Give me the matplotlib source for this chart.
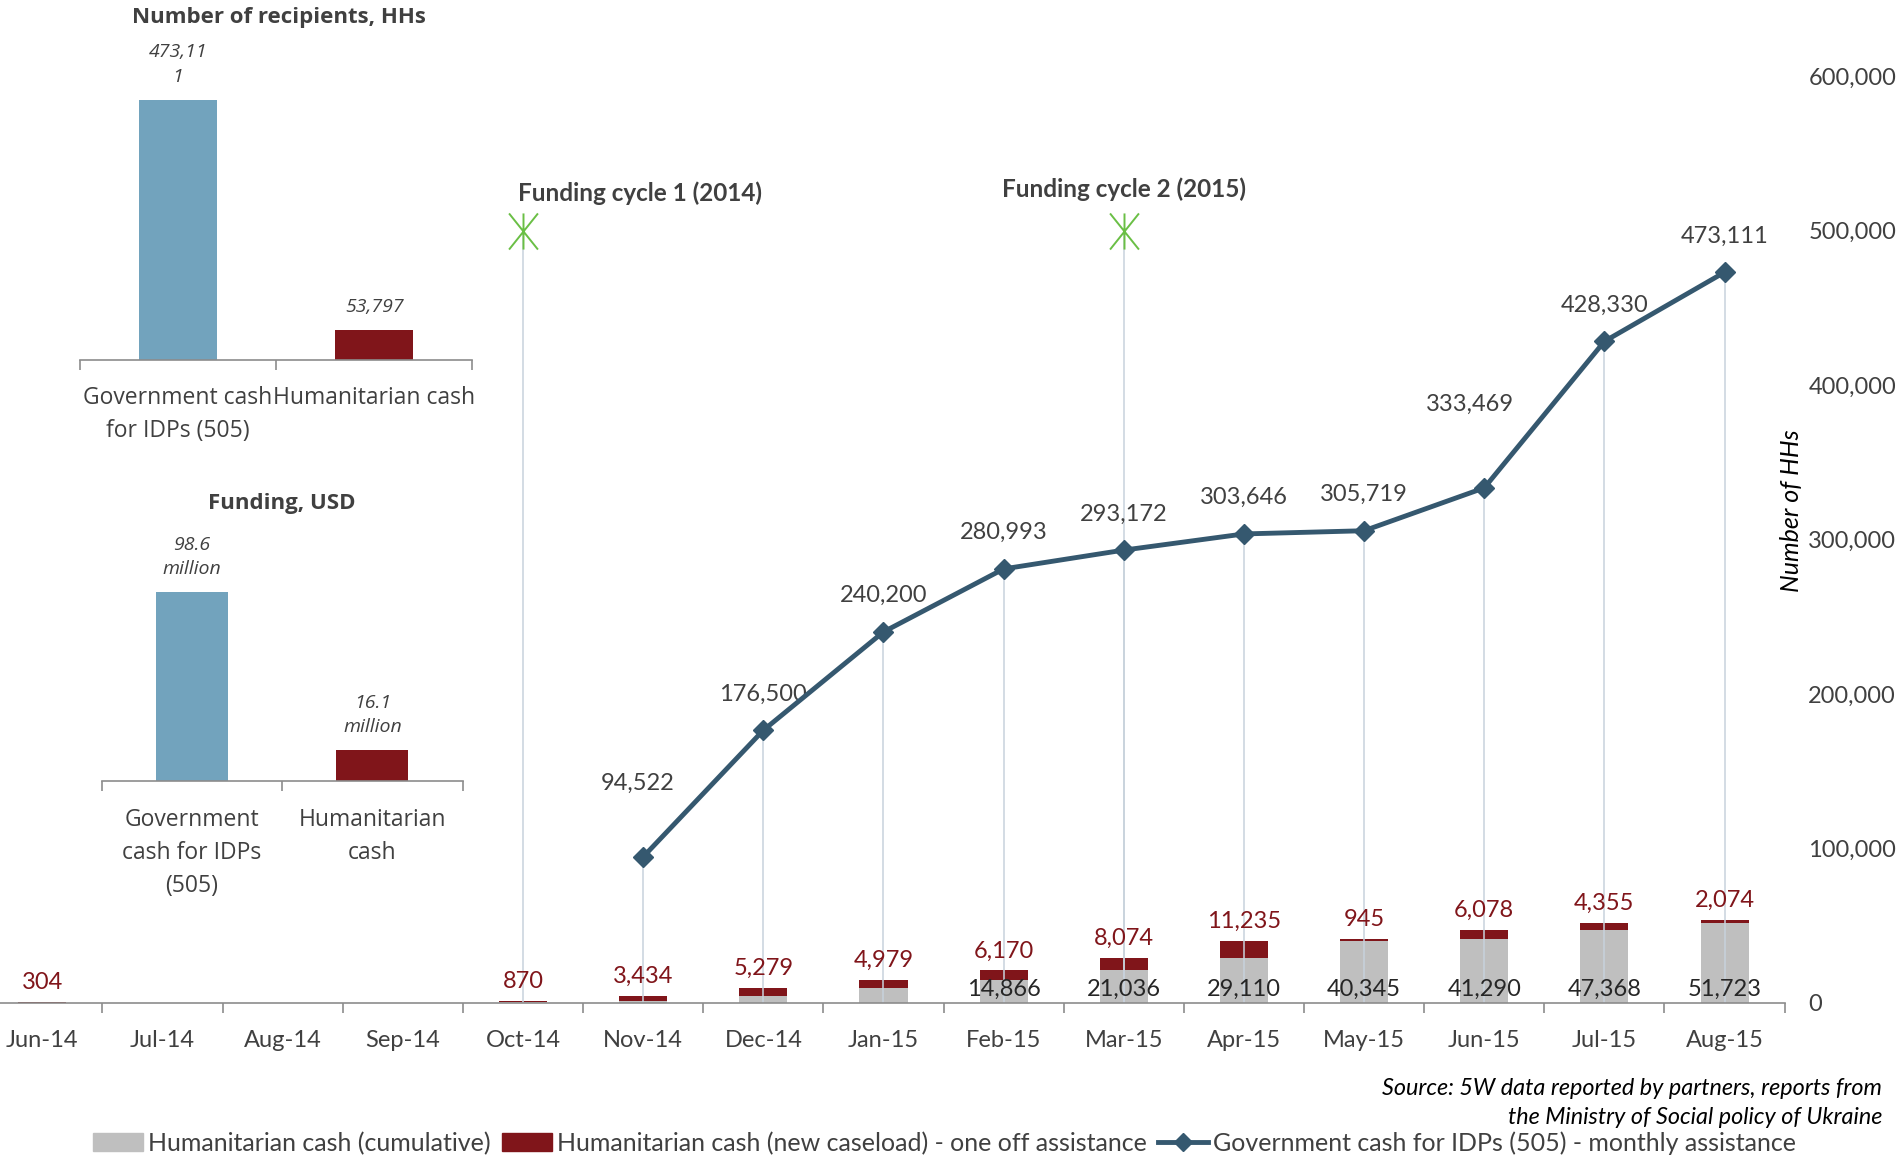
import numpy as np
import matplotlib
matplotlib.use('Agg')
import matplotlib.pyplot as plt
from matplotlib.patches import Patch
from matplotlib.lines import Line2D
from matplotlib.path import Path
from matplotlib.ticker import FuncFormatter

plt.rcParams['font.family'] = ['Lato', 'DejaVu Sans']

# monthly data
months = ['Jun-14', 'Jul-14', 'Aug-14', 'Sep-14', 'Oct-14', 'Nov-14', 'Dec-14', 'Jan-15',
          'Feb-15', 'Mar-15', 'Apr-15', 'May-15', 'Jun-15', 'Jul-15', 'Aug-15']
hum_cumulative = [0, 0, 0, 0, 304, 1174, 4608, 9887, 14866, 21036, 29110, 40345, 41290, 47368, 51723]
hum_new = [304, 0, 0, 0, 870, 3434, 5279, 4979, 6170, 8074, 11235, 945, 6078, 4355, 2074]
gov_idp = [np.nan, np.nan, np.nan, np.nan, np.nan, 94522, 176500, 240200, 280993, 293172,
           303646, 305719, 333469, 428330, 473111]

cycle_months = ['Oct-14', 'Mar-15']
cycle_names = ['Funding cycle 1 (2014)', 'Funding cycle 2 (2015)']
cycle_level = [500000, 500000]

# small panels
rec_cats = ['Government cash\nfor IDPs (505)', 'Humanitarian cash']
rec_values = [473111, 53797]
rec_labels = ['473,11\n1', '53,797']
fund_cats = ['Government\ncash for IDPs\n(505)', 'Humanitarian\ncash']
fund_values = [98.6, 16.1]
fund_labels = ['98.6\nmillion', '16.1\nmillion']

RED = '#80151a'
GREY = '#bfbfbf'
BLUE = '#72a3bd'
NAVY = '#35586f'
GREEN = '#6abf45'
TXT = '#404040'
DROP = '#c8d2dc'
AXC = '#8c8c8c'

fig = plt.figure(figsize=(18.99, 11.56), dpi=100)

# ---- main chart
ax = fig.add_axes([-0.00932, 0.1325, 0.9491, 0.8015])
ax.set_facecolor('none')
x = np.arange(len(months))
ax.bar(x, hum_cumulative, 0.4, color=GREY, zorder=2)
ax.bar(x, hum_new, 0.4, bottom=hum_cumulative, color=RED, zorder=2)

gov = np.array(gov_idp, dtype=float)
ok = ~np.isnan(gov)
ax.vlines(x[ok], 0, gov[ok], color=DROP, lw=1.1, zorder=2.5)

cx = [months.index(m) for m in cycle_months]
ax.vlines(cx, 0, cycle_level, color=DROP, lw=1.1, zorder=2.5)
star = Path([(-0.4, -0.5), (0.4, 0.5), (-0.4, 0.5), (0.4, -0.5), (0, 0.5), (0, -0.5)],
            [Path.MOVETO, Path.LINETO, Path.MOVETO, Path.LINETO, Path.MOVETO, Path.LINETO])
ax.plot(cx, cycle_level, linestyle='none', marker=star, ms=26, mew=1.4,
        mec=GREEN, mfc='none', zorder=4)

ax.plot(x, gov, '-D', color=NAVY, lw=3.5, ms=10, zorder=4)

# labels
for i, (c, n) in enumerate(zip(hum_cumulative, hum_new)):
    if n > 0:
        ax.annotate(f'{n:,}', (i, c + n), xytext=(0, 14), textcoords='offset points',
                    ha='center', va='center', color=RED, fontsize=17)
    if c > 10000:
        ax.annotate(f'{c:,}', (i, 0), xytext=(0, 9.5), textcoords='offset points',
                    ha='center', va='center', color='#262626', fontsize=17)

gov_offsets = [(-4, 53), (0, 26), (0, 26), (0, 26), (0, 26), (0, 26), (0, 26), (-10, 60),
               (0, 26), (0, 26)]
for (i, v), off in zip([(i, v) for i, v in enumerate(gov) if not np.isnan(v)], gov_offsets):
    ax.annotate(f'{int(v):,}', (i, v), xytext=off, textcoords='offset points',
                ha='center', va='center', color=TXT, fontsize=17)

ax.annotate(cycle_names[0], (cx[0], cycle_level[0]), xytext=(-3.5, 27), textcoords='offset points',
            ha='left', va='center', fontsize=17.5, fontweight='bold', color=TXT)
ax.annotate(cycle_names[1], (cx[1], cycle_level[1]), xytext=(0, 30), textcoords='offset points',
            ha='center', va='center', fontsize=17.5, fontweight='bold', color=TXT)

ax.set_xlim(-0.5, len(months) - 0.5)
ax.set_ylim(0, 600000)
ax.set_xticks(x)
ax.set_xticklabels(months)
ax.set_xticks(np.arange(-0.5, len(months)), minor=True)
ax.tick_params(axis='x', which='major', length=0, pad=19.5, labelsize=17, labelcolor=TXT)
ax.tick_params(axis='x', which='minor', length=7, width=1.2, color=AXC, direction='out')
ax.yaxis.tick_right()
ax.set_yticks(np.arange(0, 600001, 100000))
ax.yaxis.set_major_formatter(FuncFormatter(lambda v, p: f'{int(v):,}'))
ax.tick_params(axis='y', length=0, pad=17, labelsize=17, labelcolor=TXT)
for s in ['top', 'left', 'right']:
    ax.spines[s].set_visible(False)
ax.spines['bottom'].set_color(AXC)
ax.spines['bottom'].set_linewidth(1.2)

fig.text(0.9436, 0.558, 'Number of HHs', rotation=90, ha='center', va='center',
         fontsize=18, style='italic', color='black')

# ---- small panels
def small_panel(rect, cats, values, labels, ymax, title, title_xy):
    a = fig.add_axes(rect)
    a.set_facecolor('none')
    a.bar([0, 1], values, 0.4, color=[BLUE, RED])
    for i, (v, lab) in enumerate(zip(values, labels)):
        a.annotate(lab, (i, v), xytext=(0, 10), textcoords='offset points', ha='center',
                   va='bottom', fontsize=14, style='italic', color=TXT, family='Open Sans',
                   linespacing=1.44)
    a.set_xlim(-0.5, 1.5)
    a.set_ylim(0, ymax)
    a.set_yticks([])
    a.set_xticks([0, 1])
    a.set_xticklabels(cats, family='Open Sans', fontsize=16.5, color=TXT, linespacing=1.5)
    a.set_xticks([-0.5, 0.5, 1.5], minor=True)
    a.tick_params(axis='x', which='major', length=0, pad=19)
    a.tick_params(axis='x', which='minor', length=7, width=1.2, color=AXC, direction='out')
    for s in ['top', 'left', 'right']:
        a.spines[s].set_visible(False)
    a.spines['bottom'].set_color(AXC)
    a.spines['bottom'].set_linewidth(1.2)
    fig.text(title_xy[0], title_xy[1], title, ha='center', va='center', fontsize=16,
             fontweight='bold', color=TXT, family='Open Sans')
    return a

small_panel([0.04208, 0.6888, 0.2066, 0.2593], rec_cats, rec_values, rec_labels, 545000,
            'Number of recipients, HHs', (279 / 1899, 1 - 18 / 1156))
small_panel([0.05356, 0.3242, 0.19005, 0.2163], fund_cats, fund_values, fund_labels, 130.4,
            'Funding, USD', (282 / 1899, 1 - 503 / 1156))

# ---- source + legend
fig.text(0.991, 0.0461, 'Source: 5W data reported by partners, reports from\nthe Ministry of Social policy of Ukraine',
         ha='right', va='center', fontsize=16.8, style='italic', color='black', linespacing=1.45)

handles = [Patch(color=GREY), Patch(color=RED),
           Line2D([], [], color=NAVY, lw=3.5, marker='D', ms=9)]
names = ['Humanitarian cash (cumulative)', 'Humanitarian cash (new caseload) - one off assistance',
         'Government cash for IDPs (505) - monthly assistance']
leg = fig.legend(handles, names, loc='center', bbox_to_anchor=(0.4975, 0.0112), ncol=3,
                 frameon=False, fontsize=18, handlelength=2.0, handletextpad=0.2,
                 columnspacing=0.45, borderpad=0)
for t in leg.get_texts():
    t.set_color(TXT)

fig.savefig('out.png', dpi=100)
